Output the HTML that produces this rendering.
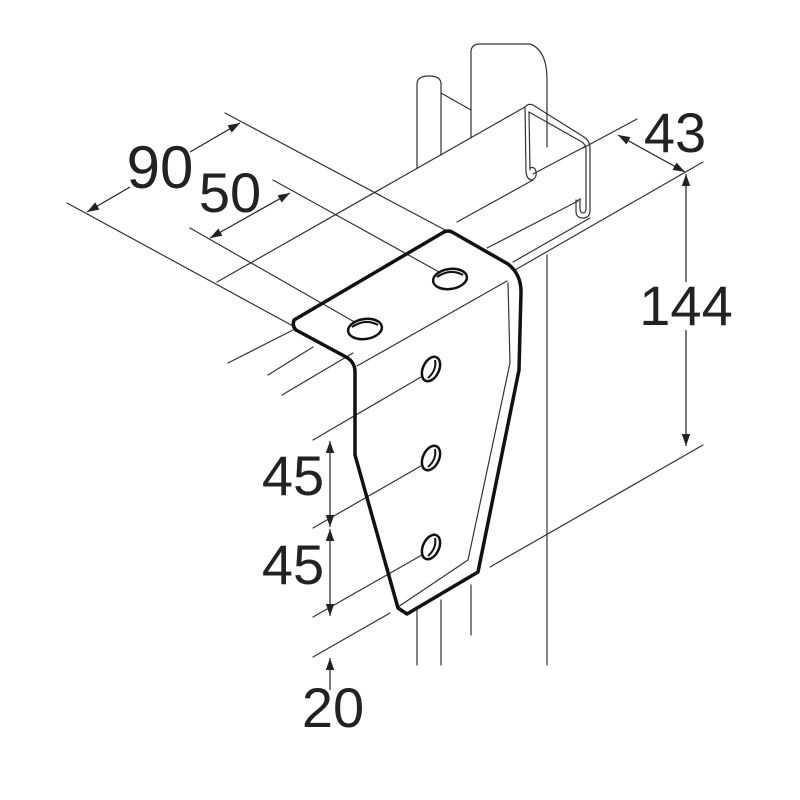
<!DOCTYPE html>
<html><head><meta charset="utf-8"><style>html,body{margin:0;padding:0;background:#fff}svg{display:block}</style></head>
<body>
<svg width="800" height="800" viewBox="0 0 800 800" xmlns="http://www.w3.org/2000/svg">
<defs>
<marker id="a" viewBox="0 0 10 10" refX="10" refY="5" markerWidth="12" markerHeight="12" markerUnits="userSpaceOnUse" orient="auto-start-reverse"><path d="M0,1.5 L10,5 L0,8.5 Z" fill="#222"/></marker>
</defs>
<g fill="none" stroke="#333" stroke-width="1.2" stroke-linecap="round">
<!-- vertical strut behind -->
<path d="M417,168 L417,84 Q417,76 429,76 Q441,76 441,84 L441,155"/>
<path d="M441,93 L471,110"/>
<path d="M471,138 L471,52 Q471,44 480,44 L530,44 Q547,50 547,80 L547,147"/>
<!-- strut below -->
<line x1="547" y1="255" x2="547" y2="665"/>
<line x1="417" y1="610" x2="417" y2="665"/>
<line x1="441" y1="600" x2="441" y2="665"/>
<line x1="471" y1="585" x2="471" y2="635"/>
<!-- channel -->
<line x1="217" y1="282" x2="525" y2="107"/>
<path d="M525,107 Q528,103 533,105 L584,137 Q590,141 590,148 L590,210 Q590,218 583,218 Q576,218 576,211 L576,200"/>
<path d="M529,112 L582,142 Q586,145 586,150 L586,208 Q586,213 583,213 Q580,213 580,208 L580,199 L577,201"/>
<path d="M525,107 L526,172 Q527,180 532,180 Q537,178 536,172 Q535,166 530,168"/>
<path d="M529,112 L530,170"/>
<line x1="533" y1="174" x2="586" y2="146"/>
<line x1="457" y1="222" x2="533" y2="180"/>
<line x1="487" y1="248" x2="578" y2="201"/>
<line x1="513" y1="262" x2="590" y2="218"/>
<line x1="515" y1="270" x2="703" y2="162"/>
<line x1="583" y1="148" x2="637" y2="119"/>
<line x1="228" y1="363" x2="293" y2="330"/>
<line x1="268" y1="375" x2="313" y2="347"/>
<line x1="282" y1="395" x2="353" y2="353"/>
<!-- extension lines -->
<line x1="67" y1="203" x2="293" y2="326"/>
<line x1="225" y1="113" x2="447" y2="231"/>
<line x1="190" y1="228" x2="365" y2="328"/>
<line x1="273" y1="180" x2="450" y2="278"/>
<line x1="703" y1="445" x2="490" y2="567"/>
<line x1="313" y1="440" x2="433" y2="370"/>
<line x1="313" y1="528" x2="433" y2="459"/>
<line x1="313" y1="617" x2="436" y2="547"/>
<line x1="313" y1="657" x2="390" y2="613"/>
<!-- bracket thin lines -->
<line x1="357" y1="366" x2="507" y2="281"/>
<path d="M508,283 L510,363 L468,560 L398,607"/>
</g>
<!-- dimension lines -->
<g stroke="#222" stroke-width="1.2" fill="none">
<line x1="87" y1="212" x2="130" y2="187" marker-start="url(#a)"/>
<line x1="190" y1="152" x2="240" y2="123" marker-end="url(#a)"/>
<line x1="210" y1="238" x2="290" y2="193" marker-start="url(#a)" marker-end="url(#a)"/>
<line x1="618" y1="135" x2="685" y2="172" marker-start="url(#a)" marker-end="url(#a)"/>
<line x1="686" y1="174" x2="686" y2="282" marker-start="url(#a)"/>
<line x1="686" y1="330" x2="686" y2="446" marker-end="url(#a)"/>
<line x1="330" y1="441" x2="330" y2="527" marker-start="url(#a)" marker-end="url(#a)"/>
<line x1="330" y1="529" x2="330" y2="616" marker-start="url(#a)" marker-end="url(#a)"/>
<line x1="330" y1="690" x2="330" y2="658" marker-end="url(#a)"/>
</g>
<!-- bracket -->
<path d="M294,320 L444,232 Q448,230 452,232 L508,264 Q521,274 521,292 L519,370 L478,572 L407,614 L398,608 L355,455 L355,372 Q355,362 346,357 L296,330 Q292,326 294,320 Z" fill="none" stroke="#111" stroke-width="3.5" stroke-linejoin="round"/>
<!-- holes -->
<g fill="#fff" stroke="#111" stroke-width="2.5">
<ellipse cx="365" cy="329" rx="17" ry="10" transform="rotate(-8 365 329)"/>
<ellipse cx="450" cy="279" rx="17" ry="10" transform="rotate(-8 450 279)"/>
<ellipse cx="431" cy="369" rx="8" ry="13" transform="rotate(25 431 369)"/>
<ellipse cx="431" cy="458" rx="8" ry="13" transform="rotate(25 431 458)"/>
<ellipse cx="431" cy="547" rx="8" ry="13" transform="rotate(25 431 547)"/>
</g>
<g fill="none" stroke="#111" stroke-width="2">
<path d="M352,327 Q365,318 378,325"/>
<path d="M437,277 Q450,268 463,275"/>
<path d="M428,378 Q437,370 435,360"/>
<path d="M428,467 Q437,459 435,449"/>
<path d="M428,556 Q437,548 435,538"/>
</g>
<!-- labels -->
<g font-family="Liberation Sans, sans-serif" fill="#222" text-anchor="middle">
<text x="160" y="188" font-size="60">90</text>
<text x="230" y="212" font-size="56">50</text>
<text x="675" y="152" font-size="56">43</text>
<text x="686" y="325" font-size="56">144</text>
<text x="293" y="495" font-size="56">45</text>
<text x="293" y="584" font-size="56">45</text>
<text x="333" y="727" font-size="56">20</text>
</g>
</svg>
</body></html>
